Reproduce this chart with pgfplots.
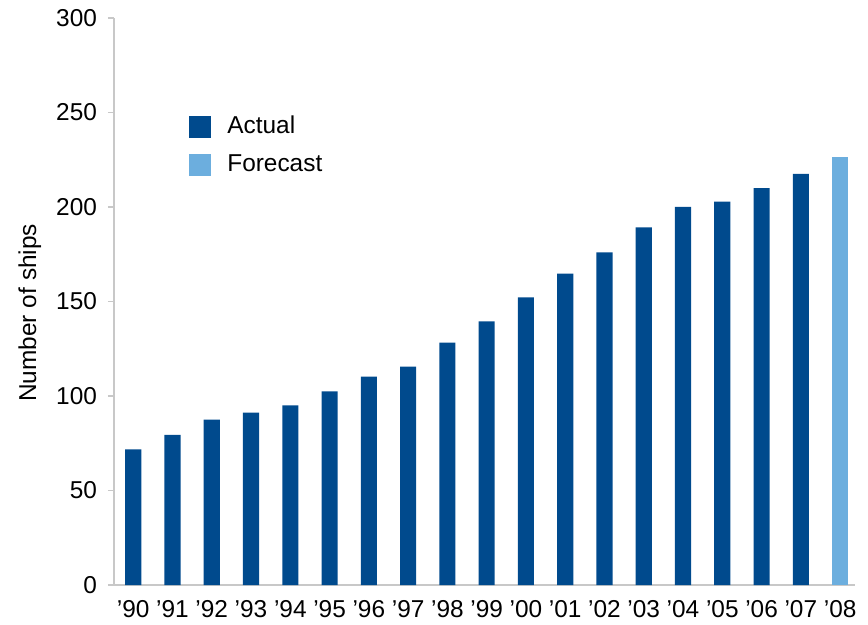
\documentclass[border=0pt]{standalone}
\usepackage{fontspec}
\setmainfont{Liberation Sans}
\usepackage{pgfplots}
\pgfplotsset{compat=1.18}

\definecolor{actualblue}{RGB}{0,74,141}
\definecolor{forecastblue}{RGB}{108,174,222}
\definecolor{axisgrey}{RGB}{200,200,200}

\begin{document}
\begin{tikzpicture}
\begin{axis}[
  scale only axis,
  width=370.5pt, height=283.5pt,
  xmin=-0.49, xmax=18.38,
  ymin=0, ymax=300,
  ytick={0,50,...,300},
  xtick={0,...,18},
  xticklabels={’90,’91,’92,’93,’94,’95,’96,’97,’98,’99,’00,’01,’02,’03,’04,’05,’06,’07,’08},
  axis x line*=bottom,
  axis y line*=left,
  axis line style={draw=axisgrey, line width=0.7pt},
  x axis line style={-}, y axis line style={-},
  major tick length=3pt,
  xtick style={draw=none},
  ytick style={draw=axisgrey, line width=0.6pt},
  tick align=outside,
  /pgf/number format/assume math mode=true,
  ticklabel style={font=\fontsize{12.2}{14}\selectfont, text=black},
  yticklabel style={xshift=-2pt},
  xticklabel style={yshift=-1pt},
  ylabel={Number of ships},
  every axis y label/.style={at={(rel axis cs:-0.1134,0.48)}, rotate=90, anchor=center,
    font=\fontsize{12.2}{14}\selectfont},
  ybar, bar width=0.41, bar shift=0pt,
  legend cell align=left,
  legend style={
    draw=none, fill=none, inner sep=0pt,
    at={(rel axis cs:0.1012,0.8345)}, anchor=north west,
    font=\fontsize{12.2}{14}\selectfont,
    row sep=5pt,
    /tikz/every odd column/.append style={column sep=6pt},
  },
  legend image code/.code={\fill[#1] (0pt,-5.5pt) rectangle (11pt,5.5pt);},
]
% yearly counts
\addplot[fill=actualblue, draw=none] coordinates {
  (0,71.8) (1,79.4) (2,87.5) (3,91.2) (4,95.0) (5,102.4) (6,110.3)
  (7,115.6) (8,128.3) (9,139.5) (10,152.2) (11,164.7) (12,176.0)
  (13,189.2) (14,200.0) (15,202.9) (16,210.0) (17,217.5)
};
\addlegendentry{Actual}
% projected count
\addplot[fill=forecastblue, draw=none] coordinates {(18,226.3)};
\addlegendentry{Forecast}
\coordinate (bbsw) at (rel axis cs:-0.1538,-0.0599);
\coordinate (bbne) at (rel axis cs:1.0175,1.0317);
\end{axis}
\useasboundingbox (bbsw) rectangle (bbne);
\end{tikzpicture}
\end{document}
